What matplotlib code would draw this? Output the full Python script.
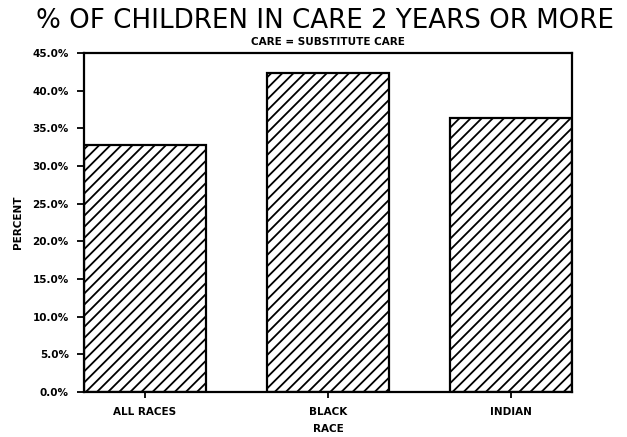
import matplotlib
matplotlib.use("Agg")
import matplotlib.pyplot as plt
import numpy as np

# data
races = ["ALL RACES", "BLACK", "INDIAN"]
pct_two_years = [32.8, 42.3, 36.4]
yticks = [0, 5, 10, 15, 20, 25, 30, 35, 40, 45]

plt.rcParams['hatch.linewidth'] = 1.3
lab_font = dict(fontsize=7.5, fontweight="bold", family="DejaVu Sans")

fig = plt.figure(figsize=(6.27, 4.37), dpi=100)
ax = fig.add_axes([84 / 627, 1 - 392 / 437, (572 - 84) / 627, (392 - 53) / 437])

x = np.arange(len(races))
ax.bar(x, pct_two_years, width=0.667, color="white", edgecolor="black",
       linewidth=1.6, hatch="///")

ax.set_xlim(-0.3335, 2.3335)
ax.set_ylim(0, 45)
ax.set_yticks(yticks)
ax.set_yticklabels([f"{v:.1f}%" for v in yticks], **lab_font)
ax.set_xticks(x)
ax.set_xticklabels(races, **lab_font)
ax.tick_params(axis="y", direction="out", length=5, width=1.3, pad=6)
ax.tick_params(axis="x", direction="out", length=4, width=1.3, pad=7)

for sp in ax.spines.values():
    sp.set_linewidth(1.6)

ax.set_ylabel("PERCENT", labelpad=7, **lab_font)
ax.set_xlabel("RACE", labelpad=5, **lab_font)

fig.text(0.518, 0.953, "% OF CHILDREN IN CARE 2 YEARS OR MORE", ha="center",
         va="center", fontsize=18.8, family="DejaVu Sans")
fig.text(0.523, 0.904, "CARE = SUBSTITUTE CARE", ha="center", va="center",
         **lab_font)

fig.savefig("out.png", dpi=100)
